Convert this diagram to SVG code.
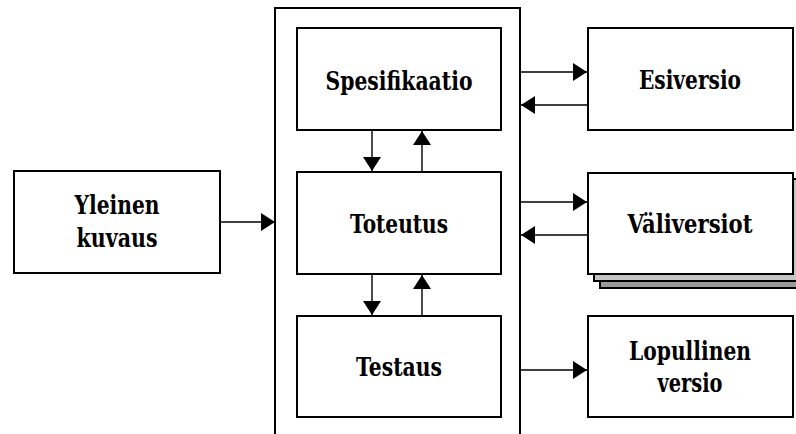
<svg xmlns="http://www.w3.org/2000/svg" width="796" height="434" viewBox="0 0 796 434">
  <style>
    .box { fill: #ffffff; stroke: #000000; stroke-width: 2; }
    .lbl { font-family: 'DejaVu Serif', 'Liberation Serif', serif; font-weight: bold; font-size: 26px; fill: #000000; text-anchor: middle; }
    .link { stroke: #000000; stroke-width: 1.4; fill: none; }
    .sh1 { fill: #c4c4c4; stroke: #000000; stroke-width: 2; }
    .sh2 { fill: #9a9a9a; stroke: #000000; stroke-width: 2; }
  </style>
  <defs>
    <marker id="head" viewBox="0 0 14 18" refX="14" refY="9" markerWidth="14" markerHeight="18" markerUnits="userSpaceOnUse" orient="auto">
      <path d="M0,0 L14,9 L0,18 Z" fill="#000000"/>
    </marker>
  </defs>

  <rect width="796" height="434" fill="#ffffff"/>

  <!-- development container (open at the bottom) -->
  <g id="container">
    <path d="M275,440 L275,8 L520,8 L520,440" class="box" fill="none"/>
  </g>

  <g id="spesifikaatio">
    <rect x="297" y="28" width="204" height="102" class="box"/>
    <text x="399" y="90" class="lbl" textLength="147" lengthAdjust="spacingAndGlyphs">Spesifikaatio</text>
  </g>

  <g id="toteutus">
    <rect x="297" y="172" width="204" height="102" class="box"/>
    <text x="399" y="233" class="lbl" textLength="98" lengthAdjust="spacingAndGlyphs">Toteutus</text>
  </g>

  <g id="testaus">
    <rect x="297" y="316" width="204" height="101" class="box"/>
    <text x="399" y="376" class="lbl" textLength="86" lengthAdjust="spacingAndGlyphs">Testaus</text>
  </g>

  <g id="yleinen-kuvaus">
    <rect x="14" y="171" width="206" height="102" class="box"/>
    <text x="117" y="214" class="lbl" textLength="85" lengthAdjust="spacingAndGlyphs">Yleinen</text>
    <text x="117" y="247" class="lbl" textLength="81" lengthAdjust="spacingAndGlyphs">kuvaus</text>
  </g>

  <g id="esiversio">
    <rect x="588" y="28" width="205" height="102" class="box"/>
    <text x="690" y="89" class="lbl" textLength="102" lengthAdjust="spacingAndGlyphs">Esiversio</text>
  </g>

  <g id="valiversiot">
    <rect x="600" y="185" width="210" height="103" class="sh2"/>
    <rect x="594" y="179" width="210" height="102" class="sh1"/>
    <rect x="588" y="173" width="205" height="101" class="box"/>
    <text x="690" y="233" class="lbl" textLength="125" lengthAdjust="spacingAndGlyphs">Väliversiot</text>
  </g>

  <g id="lopullinen-versio">
    <rect x="588" y="316" width="205" height="101" class="box"/>
    <text x="690" y="360" class="lbl" textLength="122" lengthAdjust="spacingAndGlyphs">Lopullinen</text>
    <text x="690" y="392" class="lbl" textLength="65" lengthAdjust="spacingAndGlyphs">versio</text>
  </g>

  <g id="connectors">
    <!-- input to the container -->
    <line x1="220" y1="222" x2="275" y2="222" class="link" marker-end="url(#head)"/>
    <!-- Spesifikaatio <-> Toteutus -->
    <line x1="372" y1="130" x2="372" y2="171" class="link" marker-end="url(#head)"/>
    <line x1="422" y1="172" x2="422" y2="131" class="link" marker-end="url(#head)"/>
    <!-- Toteutus <-> Testaus -->
    <line x1="372" y1="274" x2="372" y2="315" class="link" marker-end="url(#head)"/>
    <line x1="422" y1="316" x2="422" y2="275" class="link" marker-end="url(#head)"/>
    <!-- container <-> Esiversio -->
    <line x1="520" y1="72" x2="587" y2="72" class="link" marker-end="url(#head)"/>
    <line x1="587" y1="105" x2="521" y2="105" class="link" marker-end="url(#head)"/>
    <!-- container <-> Väliversiot -->
    <line x1="520" y1="202" x2="587" y2="202" class="link" marker-end="url(#head)"/>
    <line x1="587" y1="235" x2="521" y2="235" class="link" marker-end="url(#head)"/>
    <!-- container -> Lopullinen versio -->
    <line x1="520" y1="370" x2="587" y2="370" class="link" marker-end="url(#head)"/>
  </g>
</svg>
